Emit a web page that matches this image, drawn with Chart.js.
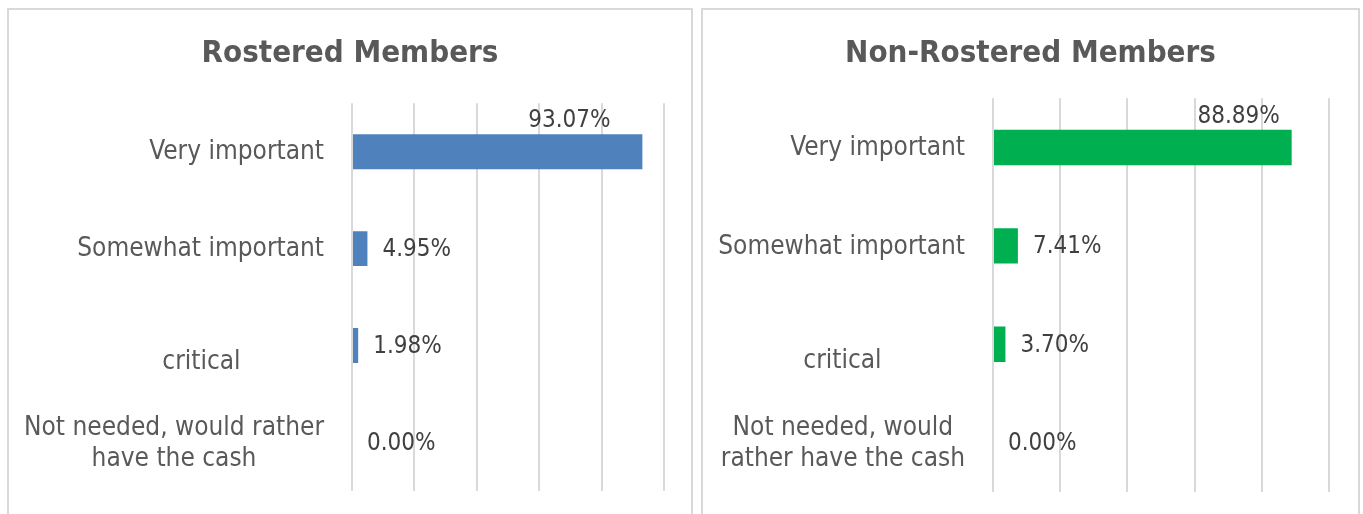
<!DOCTYPE html>
<html><head><meta charset="utf-8">
<script src="https://cdn.jsdelivr.net/npm/chart.js@4.4.1/dist/chart.umd.min.js"></script>
<style>
html,body{margin:0;padding:0;background:#fff;width:1363px;height:514px;overflow:hidden}
.panel{position:absolute;top:8px;height:530px;border:2px solid #d9d9d9;box-sizing:border-box;background:#fff}
#p1{left:7px;width:686px}
#p2{left:701px;width:659px}
.wrap{position:absolute;left:0;top:0}
</style></head>
<body>
<div class="panel" id="p1"><div class="wrap" style="width:682px;height:504px"><canvas id="c1" width="682" height="504"></canvas></div></div>
<div class="panel" id="p2"><div class="wrap" style="width:655px;height:504px"><canvas id="c2" width="655" height="504"></canvas></div></div>
<script>
// ---- data ----
const rosteredTitle = 'Rostered Members';
const nonRosteredTitle = 'Non-Rostered Members';
const rosteredCategories = [
  ['Very important'],
  ['Somewhat important'],
  ['                                 ', 'critical'],
  ['Not needed, would rather', 'have the cash']
];
const nonRosteredCategories = [
  ['Very important'],
  ['Somewhat important'],
  ['                                 ', 'critical'],
  ['Not needed, would', 'rather have the cash']
];
const rosteredValues = [93.07, 4.95, 1.98, 0.00];
const nonRosteredValues = [88.89, 7.41, 3.70, 0.00];
const xTicks = [0, 20, 40, 60, 80, 100];

const FONT = "'DejaVu Sans Condensed', 'DejaVu Sans', sans-serif";

const excelLabels = {
  id: 'excelLabels',
  afterDatasetsDraw(chart, args, opts) {
    const ctx = chart.ctx;
    const area = chart.chartArea;
    const yScale = chart.scales.y;
    const cats = chart.data.labels;
    ctx.save();
    // category labels: right-aligned blocks, lines centered inside block
    ctx.font = '26px ' + FONT;
    ctx.fillStyle = '#595959';
    ctx.textAlign = 'center';
    ctx.textBaseline = 'middle';
    const lh = opts.lineHeight;
    cats.forEach((lines, i) => {
      const y = yScale.getPixelForValue(i);
      let w = 0;
      lines.forEach(l => { w = Math.max(w, ctx.measureText(l).width); });
      const cx = area.left - opts.tickPad - w / 2;
      lines.forEach((l, j) => {
        ctx.fillText(l, cx, y + (j - (lines.length - 1) / 2) * lh + opts.catDy);
      });
    });
    // data labels
    ctx.font = '24px ' + FONT;
    ctx.fillStyle = '#404040';
    const meta = chart.getDatasetMeta(0);
    const vals = chart.data.datasets[0].data;
    meta.data.forEach((bar, i) => {
      const txt = vals[i].toFixed(2) + '%';
      const w = ctx.measureText(txt).width;
      const props = bar.getProps(['x', 'y', 'base', 'height'], true);
      if (props.x + opts.gap + w > area.right) {
        ctx.textAlign = 'center';
        ctx.fillText(txt, props.x - opts.aboveDx, props.y - props.height / 2 - opts.aboveDy);
      } else {
        ctx.textAlign = 'left';
        ctx.fillText(txt, props.x + opts.gap, props.y + 1);
      }
    });
    ctx.restore();
  }
};

function makeChart(id, title, cats, vals, color, st) {
  return new Chart(document.getElementById(id), {
    type: 'bar',
    data: {
      labels: cats,
      datasets: [{ data: vals, backgroundColor: color, borderWidth: 0,
        barPercentage: 0.36, categoryPercentage: 1 }]
    },
    options: {
      indexAxis: 'y',
      responsive: false,
      animation: false,
      layout: { padding: { left: 0, right: 0, top: 0, bottom: st.padBottom } },
      plugins: {
        legend: { display: false },
        tooltip: { enabled: false },
        title: { display: true, text: title, color: '#595959',
          font: { family: FONT, size: 31, weight: 'bold', lineHeight: 1.2 },
          padding: { top: st.titleTop, bottom: st.titleBottom } },
        excelLabels: { tickPad: 28, gap: 15, lineHeight: 31, aboveDx: st.aboveDx, aboveDy: 13, catDy: st.catDy }
      },
      scales: {
        x: {
          min: xTicks[0], max: xTicks[xTicks.length - 1],
          ticks: { display: false, stepSize: xTicks[1] - xTicks[0] },
          grid: { color: '#d9d9d9', lineWidth: 2, drawTicks: false },
          border: { display: false }
        },
        y: {
          ticks: { display: false },
          grid: { display: false, drawTicks: false },
          border: { display: false },
          afterFit(scale) { scale.width = st.axisWidth; }
        },
        yRight: {
          type: 'category', position: 'right',
          ticks: { display: false },
          grid: { display: false, drawTicks: false },
          border: { display: false },
          afterFit(scale) { scale.width = st.padRight; }
        }
      }
    },
    plugins: [excelLabels]
  });
}

makeChart('c1', rosteredTitle, rosteredCategories, rosteredValues, '#4F81BD',
  { padRight: 27, padBottom: 23, titleTop: 25, titleBottom: 31, axisWidth: 343, aboveDx: 73, catDy: 1 });
makeChart('c2', nonRosteredTitle, nonRosteredCategories, nonRosteredValues, '#00B050',
  { padRight: 29, padBottom: 22, titleTop: 25, titleBottom: 26, axisWidth: 290, aboveDx: 53, catDy: 1 });
</script>
</body></html>
